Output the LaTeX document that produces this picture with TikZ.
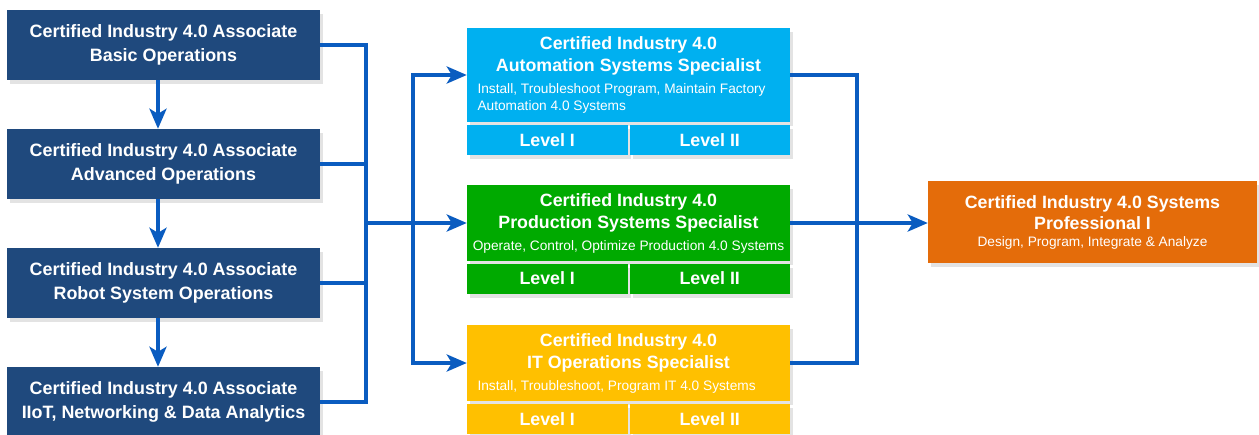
\documentclass[tikz,border=0pt]{standalone}
\usepackage{fontspec}
\setmainfont{Liberation Sans}
\usetikzlibrary{arrows.meta}
\usetikzlibrary{shadows}
\definecolor{navy}{RGB}{31,73,125}
\definecolor{linkblue}{RGB}{10,92,192}
\definecolor{autoblue}{RGB}{0,176,240}
\definecolor{prodgreen}{RGB}{0,170,0}
\definecolor{ityellow}{RGB}{255,192,0}
\definecolor{proforange}{RGB}{228,108,10}
\tikzset{
  shade box/.style= {drop shadow={shadow xshift=3pt, shadow yshift=-4pt, opacity=0.22}},
  assoc/.style= {shade box, fill=navy, text=white, minimum width=313pt, minimum height=70pt,
    inner sep=0pt, align=center, font=\fontsize{17.9}{24}\selectfont\bfseries},
  spec/.style= {shade box, minimum width=323pt, inner sep=0pt},
  title/.style= {text=white, align=center, font=\fontsize{17.8}{22}\selectfont\bfseries},
  note/.style= {text=white, align=left, font=\fontsize{13.7}{17}\selectfont},
  level/.style= {shade box, text=white, minimum width=160.5pt, minimum height=30pt,
    inner sep=0pt, font=\fontsize{17.8}{20}\selectfont\bfseries},
  link/.style= {draw=linkblue, line width=4pt},
  arr/.style= {link, -{Stealth[length=20pt, width=17pt, inset=5pt]}},
}

\begin{document}
\begin{tikzpicture}[x=1pt, y=-1pt]
  \useasboundingbox (0,0) rectangle (1259,434);

  % associate track
  \node [assoc] (b1) at (163.5,45) {Certified Industry 4.0 Associate\\Basic Operations} ;
  \node [assoc] (b2) at (163.5,164) {Certified Industry 4.0 Associate\\Advanced Operations} ;
  \node [assoc] (b3) at (163.5,283) {Certified Industry 4.0 Associate\\Robot System Operations} ;
  \node [assoc] (b4) at (163.5,402) {Certified Industry 4.0 Associate\\IIoT, Networking \& Data Analytics} ;

  % specialist boxes
  \node [spec, fill=autoblue, minimum height=94pt] (auto) at (628.5,75) {} ;
  \node [title] (autot) at (628.5,56) {Certified Industry 4.0\\Automation Systems Specialist} ;
  \node [note, anchor=west] (auton) at (474,98.5) {Install, Troubleshoot Program, Maintain Factory\\Automation 4.0 Systems} ;
  \node [level, fill=autoblue] (auto1) at (547.25,140) {Level I} ;
  \node [level, fill=autoblue] (auto2) at (709.75,140) {Level II} ;

  \node [spec, fill=prodgreen, minimum height=76pt] (prod) at (628.5,223) {} ;
  \node [title] (prodt) at (628.5,212.5) {Certified Industry 4.0\\Production Systems Specialist} ;
  \node [note] (prodn) at (628.5,247) {Operate, Control, Optimize Production 4.0 Systems} ;
  \node [level, fill=prodgreen] (prod1) at (547.25,278.5) {Level I} ;
  \node [level, fill=prodgreen] (prod2) at (709.75,278.5) {Level II} ;

  \node [spec, fill=ityellow, minimum height=76pt] (it) at (628.5,363) {} ;
  \node [title] (itt) at (628.5,352.5) {Certified Industry 4.0\\IT Operations Specialist} ;
  \node [note, anchor=west] (itn) at (474,387) {Install, Troubleshoot, Program IT 4.0 Systems} ;
  \node [level, fill=ityellow] (it1) at (547.25,419) {Level I} ;
  \node [level, fill=ityellow] (it2) at (709.75,419) {Level II} ;

  % professional
  \node [spec, fill=proforange, minimum width=329pt, minimum height=82pt] (prof) at (1092.5,222) {} ;
  \node [title, font=\fontsize{17.8}{21}\selectfont\bfseries] (proft) at (1092.5,212.5) {Certified Industry 4.0 Systems\\Professional I} ;
  \node [note] (profn) at (1092.5,243) {Design, Program, Integrate \& Analyze} ;

  \coordinate (jl) at (366,223) ;
  \coordinate (jm) at (413,223) ;
  \coordinate (jr) at (857,223) ;

  \draw [arr] ([xshift=-5.5pt]b1.south) -- ([xshift=-5.5pt]b2.north) ;
  \draw [arr] ([xshift=-5.5pt]b2.south) -- ([xshift=-5.5pt]b3.north) ;
  \draw [arr] ([xshift=-5.5pt]b3.south) -- ([xshift=-5.5pt]b4.north) ;

  \draw [link] (b1.east) -| (jl) ;
  \draw [link] (b4.east) -| (jl) ;
  \draw [link] (b2.east) -- (b2.east -| jl) ;
  \draw [link] (b3.east) -- (b3.east -| jl) ;
  \draw [arr] (jl) -- (prod.west) ;
  \draw [arr] (jm) |- (auto.west) ;
  \draw [arr] (jm) |- (it.west) ;

  \draw [link] (auto.east) -| (jr) ;
  \draw [link] (it.east) -| (jr) ;
  \draw [arr] (prod.east) -- (prod.east -| prof.west) ;
\end{tikzpicture}
\end{document}
